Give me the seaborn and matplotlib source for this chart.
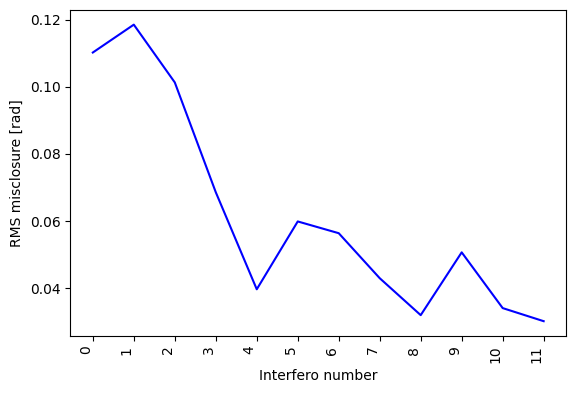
import matplotlib
matplotlib.use("Agg")
import matplotlib.pyplot as plt
import seaborn as sns
import pandas as pd

# valores
interferos = [0, 1, 2, 3, 4, 5, 6, 7, 8, 9, 10, 11]
rms_misclosure = [0.1102, 0.1185, 0.1013, 0.0686, 0.0397, 0.0599,
                  0.0564, 0.0430, 0.0320, 0.0507, 0.0341, 0.0302]

df = pd.DataFrame({'interfero': interferos, 'rms': rms_misclosure})

fig, ax = plt.subplots(figsize=(5.76, 3.93), dpi=100)
fig.subplots_adjust(left=0.122, right=0.983, top=0.975, bottom=0.145)

sns.lineplot(data=df, x='interfero', y='rms', color='blue', ax=ax)

ax.set_xticks(interferos)
ax.set_xticklabels([str(i) for i in interferos], rotation=90, ha='right')
ax.set_xlabel('Interfero number')
ax.set_ylabel('RMS misclosure [rad]')

fig.savefig('out.png', dpi=100)
